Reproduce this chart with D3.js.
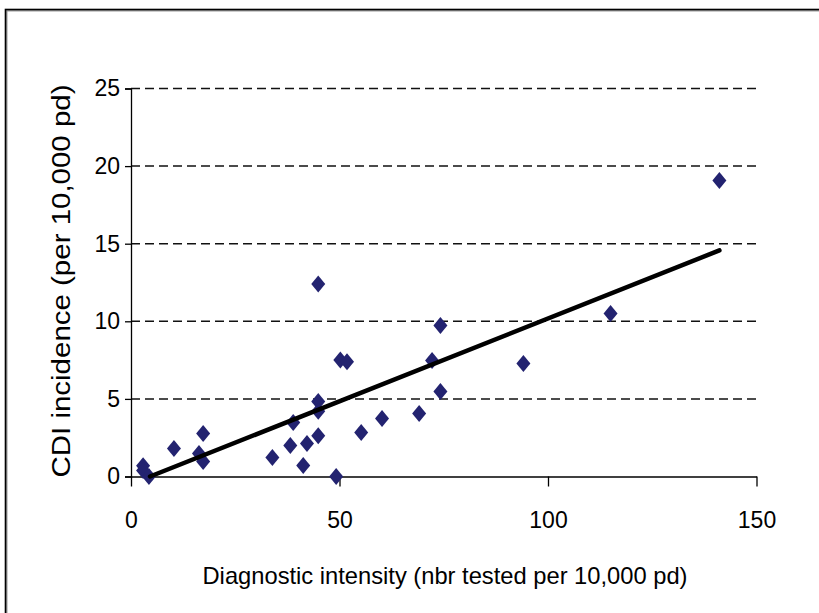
<!DOCTYPE html>
<html>
<head>
<meta charset="utf-8">
<script src="https://cdn.jsdelivr.net/npm/d3@7/dist/d3.min.js"></script>
<style>
  html, body { margin: 0; padding: 0; background: #fff; }
  svg { display: block; font-family: "Liberation Sans", Arial, sans-serif; }
</style>
</head>
<body>
<svg id="chart" width="819" height="613"></svg>
<script>
// Diagnostic intensity (x) vs CDI incidence (y), one point per ward/unit
const intensity = [141.1, 115.0, 94.1, 74.2, 74.2, 72.2, 69.1, 60.2, 55.2, 50.2, 51.8,
                   44.9, 44.9, 44.9, 44.9, 49.2, 42.2, 41.3, 38.2, 38.9, 33.9,
                   17.3, 16.3, 17.3, 10.3, 2.9, 2.9, 4.3];
const incidence = [19.07, 10.5, 7.28, 9.73, 5.48, 7.47, 4.06, 3.74, 2.84, 7.5, 7.4,
                   12.4, 4.83, 4.2, 2.62, 0.0, 2.13, 0.71, 2.0, 3.48, 1.22,
                   2.77, 1.48, 0.97, 1.8, 0.7, 0.39, 0.0];

// Linear trend line: y = slope * x + intercept, drawn over its x-range
const trendSlope = 0.1067;
const trendIntercept = -0.487;
const trendRange = [4.56, 141.1];

const xTicks = [0, 50, 100, 150];
const yTicks = [0, 5, 10, 15, 20, 25];

const svg = d3.select("#chart");

// outer frame
svg.append("rect")
  .attr("x", 6.5).attr("y", 10.5)
  .attr("width", 840).attr("height", 640)
  .attr("fill", "none").attr("stroke", "#999").attr("stroke-width", 2);
svg.append("rect")
  .attr("x", 5.5).attr("y", 9.5)
  .attr("width", 840).attr("height", 640)
  .attr("fill", "none").attr("stroke", "#000").attr("stroke-width", 1.6);

const x = d3.scaleLinear().domain([0, 150]).range([131, 756.5]);
const y = d3.scaleLinear().domain([0, 25]).range([476.5, 88.5]);

// dashed horizontal gridlines
svg.append("g")
  .selectAll("line")
  .data(yTicks.filter(d => d > 0))
  .join("line")
  .attr("x1", x(0)).attr("x2", x(150))
  .attr("y1", d => y(d)).attr("y2", d => y(d))
  .attr("stroke", "#111").attr("stroke-width", 1.5)
  .attr("stroke-dasharray", "9,5");

// y axis
const yAxis = svg.append("g")
  .attr("transform", `translate(${x(0)},0)`)
  .call(d3.axisLeft(y).tickValues(yTicks).tickSize(6).tickPadding(5).tickFormat(d3.format("d")));
yAxis.select(".domain").attr("stroke", "#000").attr("stroke-width", 1.3);
yAxis.selectAll(".tick line").attr("stroke", "#000").attr("stroke-width", 1.3);
yAxis.selectAll("text").attr("font-size", 23).attr("fill", "#000")
  .attr("font-family", "Liberation Sans, Arial, sans-serif");

// x axis
const xAxis = svg.append("g")
  .attr("transform", `translate(0,${y(0)})`)
  .call(d3.axisBottom(x).tickValues(xTicks).tickSize(10).tickSizeOuter(0).tickPadding(25).tickFormat(d3.format("d")));
xAxis.select(".domain").attr("stroke", "#000").attr("stroke-width", 1.3);
xAxis.selectAll(".tick line").attr("stroke", "#000").attr("stroke-width", 1.3);
xAxis.selectAll("text").attr("font-size", 23).attr("fill", "#000")
  .attr("font-family", "Liberation Sans, Arial, sans-serif");

// data points as diamonds
const points = intensity.map((v, i) => [v, incidence[i]]);
svg.append("g")
  .selectAll("path")
  .data(points)
  .join("path")
  .attr("transform", d => `translate(${x(d[0])},${y(d[1])})`)
  .attr("d", "M0,-8.5L7,0L0,8.5L-7,0Z")
  .attr("fill", "#232370");

// trend line
const line = d3.line().x(d => x(d)).y(d => y(trendSlope * d + trendIntercept));
svg.append("path")
  .datum(trendRange)
  .attr("d", line)
  .attr("fill", "none")
  .attr("stroke", "#000")
  .attr("stroke-width", 4.5)
  .attr("stroke-linecap", "round");

// axis titles
svg.append("text")
  .attr("transform", `translate(70,281) rotate(-90)`)
  .attr("text-anchor", "middle")
  .attr("font-size", 25)
  .attr("textLength", 393)
  .attr("lengthAdjust", "spacingAndGlyphs")
  .attr("fill", "#000")
  .text("CDI incidence (per 10,000 pd)");

svg.append("text")
  .attr("x", 445).attr("y", 584)
  .attr("text-anchor", "middle")
  .attr("font-size", 24)
  .attr("textLength", 485)
  .attr("lengthAdjust", "spacingAndGlyphs")
  .attr("fill", "#000")
  .text("Diagnostic intensity (nbr tested per 10,000 pd)");
</script>
</body>
</html>
